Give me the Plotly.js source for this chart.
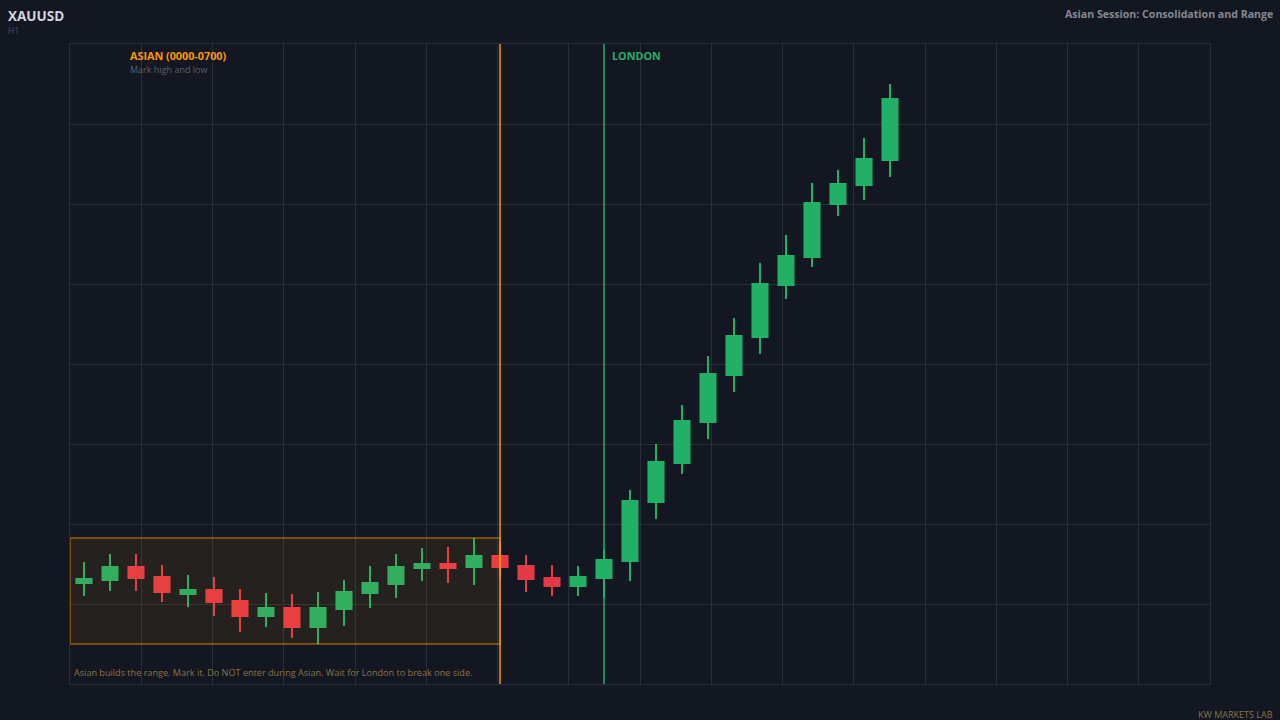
<!DOCTYPE html>
<html>
<head>
<meta charset="utf-8">
<script src="https://cdn.plot.ly/plotly-3.0.1.min.js"></script>
<style>
  html, body { margin: 0; padding: 0; background: #131722; }
  #chart { width: 1280px; height: 720px; }
</style>
</head>
<body>
<div id="chart"></div>
<script>
// ---- data (hourly candles, index 0 = session start) ----
const barIndex = [0,1,2,3,4,5,6,7,8,9,10,11,12,13,14,15,16,17,18,19,20,21,22,23,24,25,26,27,28,29,30,31];
const opens  = [2325.05,2325.20,2325.85,2325.35,2324.50,2324.70,2324.15,2323.40,2323.80,2322.85,2323.75,2324.55,2325.00,2325.80,2326.00,2325.85,2326.40,2325.90,2325.30,2324.90,2325.30,2326.15,2329.10,2331.05,2333.10,2335.45,2337.35,2339.95,2341.35,2344.00,2344.95,2346.20];
const highs  = [2326.10,2326.50,2326.50,2325.95,2325.45,2325.35,2324.75,2324.55,2324.50,2324.60,2325.20,2325.90,2326.50,2326.80,2326.85,2327.30,2327.10,2326.45,2325.95,2325.90,2326.70,2329.70,2332.00,2333.95,2336.40,2338.30,2341.05,2342.45,2345.05,2345.70,2347.30,2350.00];
const lows   = [2324.40,2324.65,2324.65,2324.10,2323.85,2323.40,2322.60,2322.85,2322.30,2322.00,2322.90,2323.80,2324.30,2325.15,2325.05,2324.95,2325.25,2324.60,2324.40,2324.40,2324.30,2325.15,2328.25,2330.50,2332.25,2334.60,2336.50,2339.25,2340.85,2343.40,2344.20,2345.35];
const closes = [2325.25,2325.85,2325.30,2324.60,2324.70,2324.10,2323.40,2323.80,2322.85,2323.80,2324.60,2325.05,2325.85,2326.00,2325.80,2326.40,2325.85,2325.25,2324.90,2325.35,2326.20,2329.15,2331.10,2333.15,2335.50,2337.40,2340.00,2341.40,2344.05,2345.00,2346.25,2349.25];

const asianEndBar = 16;   // 0700 marker
const londonBar = 20;     // London open marker

const symbolText = "XAUUSD";
const timeframeText = "H1";
const titleText = "Asian Session: Consolidation and Range";
const asianLabel = "ASIAN (0000-0700)";
const asianSub = "Mark high and low";
const londonLabel = "LONDON";
const noteText = "Asian builds the range. Mark it. Do NOT enter during Asian. Wait for London to break one side.";
const brandText = "KW MARKETS LAB";

// ---- derived ----
const asianHigh = Math.max(...highs.slice(0, asianEndBar));
const asianLow = Math.min(...lows.slice(0, asianEndBar));

const xStart = -0.5385, xEnd = 43.3077;
const yStart = 2320, yEnd = 2352;

const GREEN = '#22b066', RED = '#e63946', ORANGE = '#ff9800';
const BG = '#131722', GRID = '#2a2e39';
const FONT = '"Open Sans", "Noto Sans", sans-serif';

const trace = {
  type: 'candlestick',
  x: barIndex, open: opens, high: highs, low: lows, close: closes,
  increasing: { line: { color: GREEN, width: 2 }, fillcolor: GREEN },
  decreasing: { line: { color: RED, width: 2 }, fillcolor: RED },
  whiskerwidth: 0,
  hoverinfo: 'skip',
  showlegend: false
};

const layout = {
  width: 1280, height: 720,
  paper_bgcolor: BG, plot_bgcolor: BG,
  margin: { l: 70, r: 70, t: 44, b: 36 },
  showlegend: false,
  boxgap: 0.42, boxgroupgap: 0,
  xaxis: {
    type: 'linear', range: [xStart, xEnd], autorange: false,
    tick0: xStart, dtick: (xEnd - xStart) / 16,
    showticklabels: false, ticks: '',
    showgrid: true, gridcolor: GRID, gridwidth: 1,
    zeroline: false, showline: true, linecolor: GRID, mirror: true,
    rangeslider: { visible: false }, fixedrange: true
  },
  yaxis: {
    range: [yStart, yEnd], autorange: false,
    tick0: yStart, dtick: 4,
    showticklabels: false, ticks: '',
    showgrid: true, gridcolor: GRID, gridwidth: 1,
    zeroline: false, showline: true, linecolor: GRID, mirror: true,
    fixedrange: true
  },
  shapes: [
    { type: 'rect', xref: 'x', yref: 'y', x0: xStart, x1: asianEndBar, y0: asianLow, y1: asianHigh,
      fillcolor: 'rgba(255,152,0,0.08)', line: { color: 'rgba(255,152,0,0.4)', width: 2 }, layer: 'above' },
    { type: 'line', xref: 'x', yref: 'paper', x0: asianEndBar, x1: asianEndBar, y0: 0, y1: 1,
      line: { color: ORANGE, width: 1.5 }, layer: 'above' },
    { type: 'line', xref: 'x', yref: 'paper', x0: londonBar, x1: londonBar, y0: 0, y1: 1,
      line: { color: GREEN, width: 1.5 }, layer: 'above' }
  ],
  annotations: [
    { text: '<b>' + symbolText + '</b>', xref: 'paper', yref: 'paper', x: -0.0561, y: 1.0435,
      xanchor: 'left', yanchor: 'middle', showarrow: false, font: { family: FONT, size: 13.5, color: '#d1d4dc' } },
    { text: timeframeText, xref: 'paper', yref: 'paper', x: -0.0561, y: 1.0215,
      xanchor: 'left', yanchor: 'middle', showarrow: false, font: { family: FONT, size: 8.5, color: '#4c525e' } },
    { text: '<b>' + titleText + '</b>', xref: 'paper', yref: 'paper', x: 1.0570, y: 1.047,
      xanchor: 'right', yanchor: 'middle', showarrow: false, font: { family: FONT, size: 10.6, color: '#868993' } },
    { text: '<b>' + asianLabel + '</b>', xref: 'paper', yref: 'paper', x: 0.0509, y: 0.9828,
      xanchor: 'left', yanchor: 'middle', showarrow: false, font: { family: FONT, size: 10.8, color: ORANGE } },
    { text: asianSub, xref: 'paper', yref: 'paper', x: 0.0509, y: 0.9594,
      xanchor: 'left', yanchor: 'middle', showarrow: false, font: { family: FONT, size: 9, color: '#5d606b' } },
    { text: '<b>' + londonLabel + '</b>', xref: 'paper', yref: 'paper', x: 0.4737, y: 0.9828,
      xanchor: 'left', yanchor: 'middle', showarrow: false, font: { family: FONT, size: 10.8, color: GREEN } },
    { text: noteText, xref: 'paper', yref: 'paper', x: 0.00175, y: 0.01875,
      xanchor: 'left', yanchor: 'middle', showarrow: false, font: { family: FONT, size: 9.1, color: '#8a7444' } },
    { text: brandText, xref: 'paper', yref: 'paper', x: 1.0570, y: -0.0469,
      xanchor: 'right', yanchor: 'middle', showarrow: false, font: { family: FONT, size: 9, color: '#8a7444' } }
  ]
};

Plotly.newPlot('chart', [trace], layout, { displayModeBar: false, staticPlot: true });
</script>
</body>
</html>
